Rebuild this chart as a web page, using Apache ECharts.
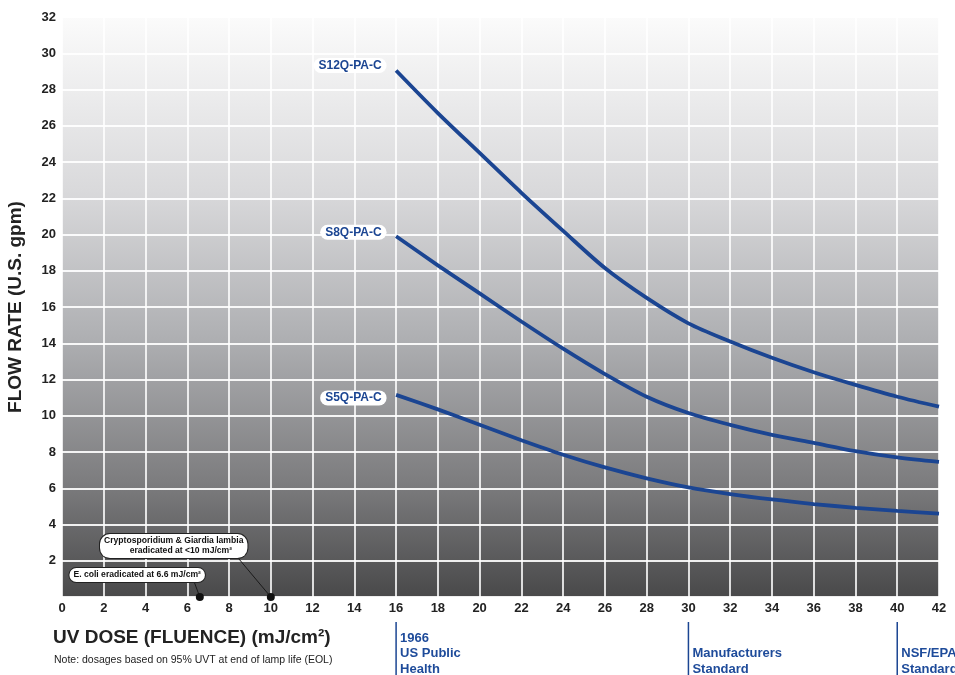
<!DOCTYPE html>
<html>
<head>
<meta charset="utf-8">
<script src="https://cdn.jsdelivr.net/npm/echarts@6/dist/echarts.min.js"></script>
<style>
html,body{margin:0;padding:0;background:#fff;}
#c{width:955px;height:675px;}
</style>
</head>
<body>
<div id="c"></div>
<script>
// ---- data ----
var doseX = [16, 18, 20, 22, 24, 26, 28, 30, 32, 34, 36, 38, 40, 42];
var s12 = [29.05, 26.7, 24.5, 22.3, 20.2, 18.15, 16.5, 15.1, 14.1, 13.2, 12.4, 11.7, 11.05, 10.5];
var s8  = [19.9, 18.3, 16.75, 15.2, 13.7, 12.3, 11.05, 10.15, 9.5, 8.95, 8.5, 8.05, 7.7, 7.45];
var s5  = [11.15, 10.35, 9.5, 8.65, 7.85, 7.15, 6.55, 6.05, 5.68, 5.38, 5.13, 4.92, 4.75, 4.6];
var seriesNames = ['S12Q-PA-C', 'S8Q-PA-C', 'S5Q-PA-C'];
var labelOffsets = [-5, -4, 3];

var pathogenDose = [6.6, 10];
var pathogenText = ['E. coli eradicated at 6.6 mJ/cm\u00b2', 'Cryptosporidium & Giardia lambia\n      eradicated at <10 mJ/cm\u00b2'];
var pathogenBox = [[3.6, 1.21], [5.35, 2.81]];
var leaderEnd = [[6.35, 0.77], [8.4, 2.2]];

var standardsX = [16, 30, 40];
var standardsText = ['1966\nUS Public\nHealth', 'Manufacturers\nStandard', 'NSF/EPA\nStandard'];

var xTitle = 'UV DOSE (FLUENCE) (mJ/cm\u00b2)';
var note = 'Note: dosages based on 95% UVT at end of lamp life (EOL)';
var yTitle = 'FLOW RATE (U.S. gpm)';

// ---- chart ----
var FONT = 'Liberation Sans, Arial, sans-serif';
var BLUE = '#1b4592';
var chart = echarts.init(document.getElementById('c'));

function pairs(ys) { return doseX.map(function (x, i) { return [x, ys[i]]; }); }

var series = [];
[s12, s8, s5].forEach(function (ys, k) {
  series.push({
    type: 'line', data: pairs(ys), smooth: 0.3, symbol: 'none',
    lineStyle: { color: BLUE, width: 3.8 }, z: 5
  });
  series.push({
    type: 'scatter', data: [[doseX[0], ys[0]]], symbolSize: 1,
    itemStyle: { color: 'rgba(0,0,0,0)', opacity: 1 }, z: 6, silent: true,
    label: {
      show: true, position: 'left', distance: 9, offset: [0, labelOffsets[k]],
      formatter: seriesNames[k], color: BLUE, fontFamily: FONT, fontWeight: 'bold',
      fontSize: 12, backgroundColor: '#fff', borderRadius: 8, padding: [2, 5, 1, 5]
    }
  });
});

pathogenDose.forEach(function (d, i) {
  series.push({
    type: 'line', data: [[d, 0], leaderEnd[i]], symbol: 'none', clip: false,
    lineStyle: { color: '#1a1a1a', width: 1 }, z: 7, silent: true
  });
  series.push({
    type: 'scatter', data: [pathogenBox[i]], symbolSize: 1, itemStyle: { color: 'rgba(0,0,0,0)', opacity: 1 },
    z: 9, silent: true, clip: false,
    label: {
      show: true, position: 'inside', formatter: pathogenText[i], color: '#111',
      fontFamily: FONT, fontWeight: 'bold', fontSize: 8.6, lineHeight: 10,
      backgroundColor: '#fff', borderColor: '#222', borderWidth: 1, borderRadius: 10,
      padding: [2, 4, 2, 4]
    }
  });
});
series.push({
  type: 'scatter', data: pathogenDose.map(function (d) { return [d, 0]; }),
  symbolSize: 8, itemStyle: { color: '#111', opacity: 1 }, clip: false, z: 8, silent: true
});

chart.setOption({
  animation: false,
  grid: {
    left: 62, right: 16, top: 17, bottom: 78, show: true, borderWidth: 0,
    outerBoundsMode: 'none', containLabel: false,
    backgroundColor: new echarts.graphic.LinearGradient(0, 0, 0, 1, [
      { offset: 0, color: '#fbfbfb' },
      { offset: 0.3, color: '#d9d9db' },
      { offset: 0.55, color: '#afb0b3' },
      { offset: 0.8, color: '#7d7d7f' },
      { offset: 1, color: '#49494a' }
    ])
  },
  xAxis: {
    type: 'value', min: 0, max: 42, interval: 2,
    axisLine: { show: false }, axisTick: { show: false },
    axisLabel: { color: '#222', fontFamily: FONT, fontWeight: 'bold', fontSize: 13, margin: 5 },
    splitLine: { show: true, lineStyle: { color: 'rgba(255,255,255,0.9)', width: 1.8 } }
  },
  yAxis: {
    type: 'value', min: 0, max: 32, interval: 2,
    name: yTitle, nameLocation: 'middle', nameGap: 37,
    nameTextStyle: { color: '#222', fontFamily: FONT, fontWeight: 'bold', fontSize: 19 },
    axisLine: { show: false }, axisTick: { show: false },
    axisLabel: { color: '#222', fontFamily: FONT, fontWeight: 'bold', fontSize: 13, margin: 6, showMinLabel: false },
    splitLine: { show: true, lineStyle: { color: 'rgba(255,255,255,0.9)', width: 1.8 } }
  },
  series: series
});

var graphics = [
  { type: 'text', left: 53, top: 628, style: { text: xTitle, fill: '#222', font: 'bold 19px ' + FONT } },
  { type: 'text', left: 54, top: 655, style: { text: note, fill: '#222', font: '10.5px ' + FONT } }
];
standardsX.forEach(function (v, i) {
  var px = chart.convertToPixel({ xAxisIndex: 0 }, v);
  graphics.push({ type: 'line', shape: { x1: px, y1: 622, x2: px, y2: 675 }, style: { stroke: BLUE, lineWidth: 1.5 } });
  graphics.push({
    type: 'text', x: px + 4, y: 677,
    style: { text: standardsText[i], fill: '#1e4b9a', font: 'bold 13px ' + FONT, lineHeight: 15.5, textVerticalAlign: 'bottom', verticalAlign: 'bottom' }
  });
});
chart.setOption({ graphic: graphics });
</script>
</body>
</html>
